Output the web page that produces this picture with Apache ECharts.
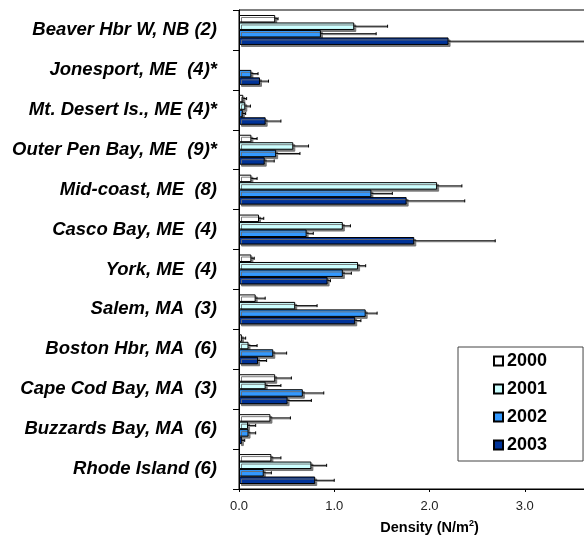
<!DOCTYPE html>
<html>
<head>
<meta charset="utf-8">
<script src="https://cdn.jsdelivr.net/npm/echarts@6/dist/echarts.min.js"></script>
<style>
html,body{margin:0;padding:0;background:#fff;}
#c{width:584px;height:539px;}
</style>
</head>
<body>
<div id="c"></div>
<script>
const categories = ['Beaver Hbr W, NB (2)','Jonesport, ME  (4)*','Mt. Desert Is., ME (4)*','Outer Pen Bay, ME  (9)*','Mid-coast, ME  (8)','Casco Bay, ME  (4)','York, ME  (4)','Salem, MA  (3)','Boston Hbr, MA  (6)','Cape Cod Bay, MA  (3)','Buzzards Bay, MA  (6)','Rhode Island (6)'];
const years = ['2000','2001','2002','2003'];
const d2000 = [0.38, null, 0.045, 0.13, 0.13, 0.21, 0.13, 0.175, 0.03, 0.38, 0.33, 0.34];
const d2001 = [1.21, null, 0.066, 0.57, 2.08, 1.09, 1.25, 0.59, 0.10, 0.28, 0.095, 0.76];
const d2002 = [0.86, 0.13, 0.04, 0.39, 1.39, 0.71, 1.09, 1.33, 0.36, 0.67, 0.10, 0.26];
const d2003 = [2.20, 0.22, 0.28, 0.27, 1.76, 1.84, 0.93, 1.22, 0.20, 0.51, 0.03, 0.80];
const e2000 = [0.03, null, 0.035, 0.06, 0.06, 0.05, 0.03, 0.10, 0.04, 0.17, 0.21, 0.10];
const e2001 = [0.35, null, 0.054, 0.16, 0.26, 0.08, 0.08, 0.23, 0.09, 0.16, 0.08, 0.16];
const e2002 = [0.58, 0.07, 0.03, 0.25, 0.22, 0.07, 0.09, 0.12, 0.14, 0.22, 0.075, 0.08];
const e2003 = [1.80, 0.09, 0.16, 0.10, 0.61, 0.85, 0.03, 0.06, 0.09, 0.25, 0.03, 0.20];
const xTicks = ['0.0','1.0','2.0','3.0','4.0'];

const values = [d2000, d2001, d2002, d2003];
const errors = [e2000, e2001, e2002, e2003];
const colors = ['#FFFFFF', '#CCFFFF', '#3399FF', '#003399'];
const nSeries = 4;
const catGap = 0.25;

const series = [];
years.forEach((y, k) => {
  series.push({
    name: y, type: 'bar', data: values[k],
    barGap: '0%', barCategoryGap: (catGap*100) + '%',
    itemStyle: { color: colors[k], borderColor: '#000', borderWidth: 1,
      shadowColor: 'rgba(110,110,110,0.9)', shadowOffsetX: 2, shadowOffsetY: 2, shadowBlur: 0 },
    z: 2
  });
});
years.forEach((y, k) => {
  const data = values[k].map((v, i) => [i, v, errors[k][i]]);
  series.push({
    type: 'custom', name: y + ' err', z: 5, silent: true,
    encode: { x: 1, y: 0 },
    data: data,
    renderItem: function (params, api) {
      const v = api.value(1), e = api.value(2), ci = api.value(0);
      if (v == null || isNaN(v) || e == null || isNaN(e)) return null;
      const p0 = api.coord([v, ci]);
      const p1 = api.coord([v + e, ci]);
      const band = api.size([0, 1])[1];
      const bw = band * (1 - catGap) / nSeries;
      const yy = p0[1] - band * (1 - catGap) / 2 + bw * (k + 0.5);
      return { type: 'group', children: [
        { type: 'line', shape: { x1: p0[0], y1: yy + 1, x2: p1[0], y2: yy + 1 }, style: { stroke: '#888', lineWidth: 1 } },
        { type: 'line', shape: { x1: p0[0], y1: yy, x2: p1[0], y2: yy }, style: { stroke: '#000', lineWidth: 1 } },
        { type: 'line', shape: { x1: p1[0], y1: yy - 1.5, x2: p1[0], y2: yy + 1.5 }, style: { stroke: '#000', lineWidth: 1 } }
      ]};
    }
  });
});

const chart = echarts.init(document.getElementById('c'), null, { renderer: 'canvas' });
chart.setOption({
  animation: false,
  backgroundColor: '#fff',
  textStyle: { fontFamily: 'Liberation Sans, Arial, sans-serif' },
  grid: { left: 239, top: 10, right: -36, bottom: 50, containLabel: false, outerBoundsMode: 'none',
    show: true, borderColor: '#000', borderWidth: 1, backgroundColor: 'transparent' },
  legend: {
    data: years, orient: 'vertical', left: 458, top: 347,
    itemWidth: 9, itemHeight: 9, itemGap: 8, padding: [4, 36, 6, 35],
    borderColor: '#444', borderWidth: 1, backgroundColor: '#fff',
    icon: 'rect',
    textStyle: { fontSize: 18, fontWeight: 'bold', color: '#000', lineHeight: 20, padding: [0, 0, 0, -1] }
  },
  xAxis: {
    type: 'value', min: 0, max: 4, interval: 1,
    axisLine: { show: true, lineStyle: { color: '#000', width: 1 } },
    axisTick: { show: true, length: 3, lineStyle: { color: '#000' } },
    splitLine: { show: false },
    axisLabel: { fontSize: 13, color: '#222', margin: 11, formatter: (v) => xTicks[Math.round(v)] },
    name: 'Density (N/m{sup|2})', nameLocation: 'middle', nameGap: 30,
    nameTextStyle: { fontSize: 14.5, fontWeight: 'bold', color: '#000', lineHeight: 17,
      rich: { sup: { fontSize: 9, fontWeight: 'bold', color: '#000', verticalAlign: 'top', lineHeight: 10 } } }
  },
  yAxis: {
    type: 'category', data: categories, inverse: true,
    axisLine: { show: true, lineStyle: { color: '#000', width: 1 } },
    axisTick: { show: true, length: 6, inside: false, lineStyle: { color: '#000' } },
    axisLabel: { fontSize: 18.5, fontWeight: 'bold', fontStyle: 'italic', color: '#000', margin: 22, padding: [5, 0, 0, 0] },
    splitLine: { show: false }
  },
  series: series
});
</script>
</body>
</html>
